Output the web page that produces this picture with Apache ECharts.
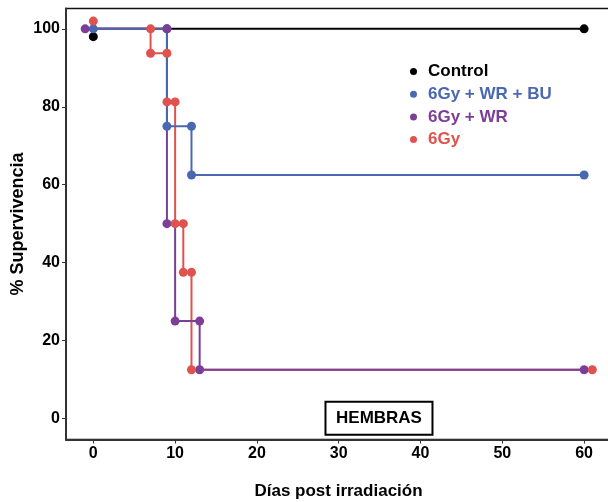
<!DOCTYPE html>
<html><head><meta charset="utf-8">
<script src="https://cdn.jsdelivr.net/npm/echarts@6/dist/echarts.min.js"></script>
<style>html,body{margin:0;padding:0;background:#fff}#c{width:608px;height:502px}</style>
</head><body><div id="c"></div>
<script>
// Series names
const seriesNames = ['Control', '6Gy + WR + BU', '6Gy + WR', '6Gy'];
const seriesColors = ['#000000', '#4A68B1', '#7B3F97', '#E0524E'];
// Step (Kaplan-Meier) curves: [day, % survival]
const controlCurve = [[0, 100], [60, 100]];
const buCurve = [[0, 100], [9, 75], [12, 62.5], [60, 62.5]];
const wrCurve = [[0, 100], [9, 50], [10, 25], [13, 12.5], [60, 12.5]];
const gyCurve = [[0, 100], [7, 93.75], [9, 81.25], [10, 50], [11, 37.5], [12, 12.5], [61, 12.5]];
// Plotted points (with the small dodge seen in the picture)
const controlPts = [[0, 98], [60, 100]];
const buPts = [[0, 100], [9, 100], [9, 75], [12, 75], [12, 62.5], [60, 62.5]];
const wrPts = [[-1, 100], [9, 100], [9, 50], [10, 25], [13, 25], [13, 12.5], [60, 12.5]];
const gyPts = [[0, 102], [7, 100], [7, 93.75], [9, 93.75], [9, 81.25], [10, 81.25], [10, 50], [11, 50], [11, 37.5], [12, 37.5], [12, 12.5], [61, 12.5]];
// Axis ticks
const xTicks = [0, 10, 20, 30, 40, 50, 60];
const yTicks = [0, 20, 40, 60, 80, 100];
const annotationText = 'HEMBRAS';

const curves = [controlCurve, buCurve, wrCurve, gyCurve];
const pts = [controlPts, buPts, wrPts, gyPts];
const lineZ = [2, 5, 4, 3];

const chart = echarts.init(document.getElementById('c'), null, {renderer: 'canvas'});
const FONT = 'Liberation Sans, Arial, sans-serif';

const series = [];
curves.forEach((d, i) => {
  series.push({
    name: seriesNames[i], type: 'line', step: 'end', data: d,
    showSymbol: false, symbol: 'none', silent: true, z: lineZ[i],
    lineStyle: {color: seriesColors[i], width: 2}, itemStyle: {color: seriesColors[i]},
    animation: false
  });
});
pts.forEach((d, i) => {
  series.push({
    name: seriesNames[i], type: 'scatter', data: d, symbol: 'circle', symbolSize: 9,
    itemStyle: {color: seriesColors[i], opacity: 1}, z: 10 + i, animation: false
  });
});

chart.setOption({
  animation: false,
  grid: {left: 66, top: 8.5, width: 545, height: 431, show: true, borderColor: '#111', borderWidth: 1.5,
         backgroundColor: 'transparent', containLabel: false, outerBoundsMode: 'none'},
  xAxis: {
    type: 'value', min: -3.34, max: -3.34 + 545 / 8.18,
    axisLine: {show: true, onZero: false, lineStyle: {color: '#333', width: 2}},
    axisTick: {show: true, length: 4, lineStyle: {color: '#333', width: 1}, customValues: xTicks},
    splitLine: {show: false},
    axisLabel: {fontFamily: FONT, fontWeight: 'bold', fontSize: 16, color: '#000', margin: 6, customValues: xTicks},
    name: 'Días post irradiación', nameLocation: 'middle', nameGap: 43, nameMoveOverlap: false,
    nameTextStyle: {fontFamily: FONT, fontWeight: 'bold', fontSize: 17, color: '#000'}
  },
  yAxis: {
    type: 'value', min: -5.4, max: -5.4 + 431 / 3.896,
    axisLine: {show: true, onZero: false, lineStyle: {color: '#333', width: 2}},
    axisTick: {show: true, length: 4, lineStyle: {color: '#333', width: 1}, customValues: yTicks},
    splitLine: {show: false},
    axisLabel: {fontFamily: FONT, fontWeight: 'bold', fontSize: 16, color: '#000', margin: 6, customValues: yTicks},
    name: '% Supervivencia', nameLocation: 'middle', nameGap: 39, nameRotate: 90, nameMoveOverlap: false,
    nameTextStyle: {fontFamily: FONT, fontWeight: 'bold', fontSize: 18, color: '#000'}
  },
  legend: {
    orient: 'vertical', left: 405, top: 58, itemWidth: 19, itemHeight: 7, itemGap: 5.7,
    icon: 'circle',
    data: seriesNames.map((n, i) => ({name: n, textStyle: {color: seriesColors[i]}})),
    textStyle: {fontFamily: FONT, fontWeight: 'bold', fontSize: 17}
  },
  series: series
});

// annotation box anchored to data coordinates
const c = chart.convertToPixel({gridIndex: 0}, [34.8, 0.3]);
chart.setOption({
  graphic: [{
    type: 'group', left: c[0] - 53.5, top: c[1] - 16.5,
    children: [
      {type: 'rect', shape: {x: 0, y: 0, width: 107, height: 33}, style: {fill: '#fff', stroke: '#000', lineWidth: 2}},
      {type: 'text', x: 53.5, y: 16.5, style: {text: annotationText, fontFamily: FONT, fontWeight: 'bold', fontSize: 17, fill: '#000', align: 'center', verticalAlign: 'middle'}}
    ]
  }]
});
</script></body></html>
